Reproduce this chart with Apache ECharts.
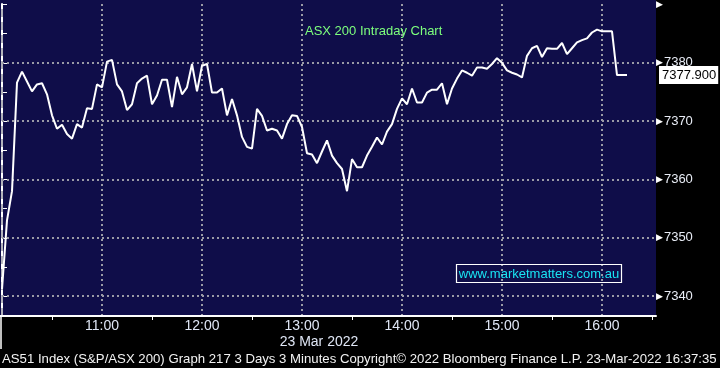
<!DOCTYPE html>
<html><head><meta charset="utf-8">
<script src="https://cdn.jsdelivr.net/npm/echarts@6/dist/echarts.min.js"></script>
<style>html,body{margin:0;padding:0;background:#000;}#c{width:720px;height:368px;}</style>
</head><body><div id="c"></div>
<script>
const times = [
'10:00','10:03','10:06','10:09','10:12','10:15','10:18','10:21','10:24','10:27','10:30','10:33','10:36','10:39','10:42','10:45','10:48','10:51','10:54','10:57',
'11:00','11:03','11:06','11:09','11:12','11:15','11:18','11:21','11:24','11:27','11:30','11:33','11:36','11:39','11:42','11:45','11:48','11:51','11:54','11:57',
'12:00','12:03','12:06','12:09','12:12','12:15','12:18','12:21','12:24','12:27','12:30','12:33','12:36','12:39','12:42','12:45','12:48','12:51','12:54','12:57',
'13:00','13:03','13:06','13:09','13:12','13:15','13:18','13:21','13:24','13:27','13:30','13:33','13:36','13:39','13:42','13:45','13:48','13:51','13:54','13:57',
'14:00','14:03','14:06','14:09','14:12','14:15','14:18','14:21','14:24','14:27','14:30','14:33','14:36','14:39','14:42','14:45','14:48','14:51','14:54','14:57',
'15:00','15:03','15:06','15:09','15:12','15:15','15:18','15:21','15:24','15:27','15:30','15:33','15:36','15:39','15:42','15:45','15:48','15:51','15:54','15:57',
'16:00','16:03','16:06','16:09','16:12','16:15'];
const values = [
7341.2,7353.0,7358.0,7376.6,7378.5,7376.8,7375.1,7376.3,7376.5,7374.6,7371.0,7368.7,7369.4,7367.8,7367.0,7369.5,7368.9,7372.2,7372.1,7376.3,
7375.8,7380.2,7380.5,7376.3,7375.1,7371.9,7372.9,7376.5,7377.3,7377.8,7372.9,7374.4,7377.1,7377.1,7372.4,7377.6,7374.6,7375.8,7379.8,7375.1,
7379.5,7379.8,7374.9,7374.9,7375.6,7371.0,7373.8,7371.0,7367.3,7365.6,7365.3,7372.1,7370.9,7368.4,7368.7,7368.4,7367.0,7369.5,7371.0,7370.9,
7369.0,7364.5,7364.3,7362.8,7364.8,7366.7,7364.1,7362.8,7361.8,7358.0,7363.5,7362.1,7362.1,7364.1,7365.6,7367.2,7366.0,7368.2,7369.5,7372.1,
7373.9,7372.9,7375.6,7373.2,7373.2,7374.9,7375.4,7375.4,7376.5,7372.9,7375.6,7377.3,7378.7,7378.3,7377.8,7379.2,7379.2,7379.0,7379.8,7380.8,
7380.0,7378.7,7378.3,7378.0,7377.5,7381.2,7382.5,7382.9,7381.0,7382.5,7382.4,7382.4,7383.4,7381.5,7382.5,7383.5,7383.9,7384.2,7385.2,7385.7,
7385.4,7385.4,7385.4,7377.9,7377.9,7377.9];
const yLabelValues = [7340, 7350, 7360, 7370, 7380, 7390];
const yTickValues = [7340, 7345, 7350, 7355, 7360, 7365, 7370, 7375, 7380, 7385, 7390];
const yGridValues = [7340, 7350, 7360, 7370, 7380];
const titleText = 'ASX 200 Intraday Chart';
const dateText = '23 Mar 2022';
const footerText = 'AS51 Index (S&P/ASX 200) Graph 217 3 Days 3 Minutes Copyright\u00a9 2022 Bloomberg Finance L.P. 23-Mar-2022 16:37:35';
const watermark = 'www.marketmatters.com.au';

const toMin = t => { const [h, m] = t.split(':').map(Number); return (h - 10) * 60 + m; };
const seriesData = times.map((t, i) => [toMin(t), values[i]]);
const last = values[values.length - 1];

const FONT = 'Liberation Sans';
const grid = { left: 2, right: 64, top: 0, bottom: 52 };
const dotted = { color: '#9a9aa6', width: 2, type: [2, 3] };

const chart = echarts.init(document.getElementById('c'), null, { renderer: 'canvas' });
chart.setOption({
  backgroundColor: '#000000',
  animation: false,
  grid: grid,
  graphic: [
    { type: 'rect', z: -10, silent: true, shape: { x: 0, y: 0, width: 656, height: 316 }, style: { fill: '#0f0d49' } },
    { type: 'line', z: 10, silent: true, shape: { x1: 0, y1: 316, x2: 4, y2: 316 }, style: { stroke: '#ffffff', lineWidth: 2 } },
    { type: 'line', z: 10, silent: true, shape: { x1: 1, y1: 316, x2: 1, y2: 349 }, style: { stroke: '#ffffff', lineWidth: 1.5 } },
    { type: 'text', z: 10, silent: true, style: { x: 305, y: 31, text: titleText, fill: '#7dff7d', font: '13px ' + FONT, textVerticalAlign: 'middle' } },
    { type: 'rect', z: 10, silent: true, shape: { x: 456.5, y: 264.5, width: 165, height: 18 }, style: { fill: 'none', stroke: '#ffffff', lineWidth: 1.2 } },
    { type: 'text', z: 10, silent: true, style: { x: 539, y: 274, text: watermark, fill: '#19e3f2', font: '13px ' + FONT, textAlign: 'center', textVerticalAlign: 'middle' } },
    { type: 'text', z: 10, silent: true, style: { x: 319, y: 342, text: dateText, fill: '#dfe6f5', font: '14px ' + FONT, textAlign: 'center', textVerticalAlign: 'middle' } },
    { type: 'text', z: 10, silent: true, style: { x: 2, y: 359, text: footerText, fill: '#f2f2f2', font: '13.2px ' + FONT, textVerticalAlign: 'middle' } }
  ],
  xAxis: {
    type: 'value', min: 0, max: 392.4, interval: 60,
    axisLine: { show: true, lineStyle: { color: '#ffffff', width: 2 } },
    axisTick: { show: false },
    minorTick: { show: true, splitNumber: 2, length: 4, lineStyle: { color: '#ffffff', width: 1 } },
    minorSplitLine: { show: false },
    splitLine: { show: true, showMinLine: false, showMaxLine: false, lineStyle: dotted },
    axisLabel: {
      color: '#dfe6f5', fontSize: 14, fontFamily: FONT, margin: 3, showMinLabel: false, showMaxLabel: false,
      formatter: v => (v === 0 || v % 60 !== 0) ? '' : (10 + v / 60) + ':00'
    }
  },
  yAxis: {
    type: 'value', position: 'right', min: 7336.6, max: 7390.1, scale: true,
    axisLine: { show: true, lineStyle: { color: '#ffffff', width: 2 } },
    axisTick: { show: true, customValues: yTickValues, length: 5, lineStyle: { color: '#ffffff', width: 1 } },
    splitLine: { show: false },
    axisLabel: {
      customValues: yLabelValues, margin: 0,
      formatter: v => v === 7390 ? '{a|\u25B6}' : '{a|\u25B6}{b|' + v + '}',
      rich: {
        a: { color: '#ffffff', fontSize: 9, fontFamily: 'DejaVu Sans', padding: [0, 1, 0, 0] },
        b: { color: '#e8ecf5', fontSize: 13, fontFamily: FONT }
      }
    }
  },
  series: [{
    type: 'line', data: seriesData, showSymbol: false, symbol: 'none',
    lineStyle: { color: '#ffffff', width: 2 }, z: 5,
    markLine: {
      silent: true, symbol: 'none', animation: false,
      data: yGridValues.map(v => ({ yAxis: v, lineStyle: dotted, label: { show: false } }))
        .concat([
          { xAxis: 0, lineStyle: { color: '#9a9aa6', width: 1.5, type: [8, 5] }, label: { show: false } },
          { yAxis: last, lineStyle: { color: 'rgba(0,0,0,0)', width: 0 }, label: { show: true, position: 'end', distance: 3,
            formatter: () => last.toFixed(3), backgroundColor: '#ffffff', color: '#000000',
            fontSize: 13, fontFamily: FONT, padding: [3, 2, 2, 3] } }
        ])
    }
  }]
});
</script></body></html>
